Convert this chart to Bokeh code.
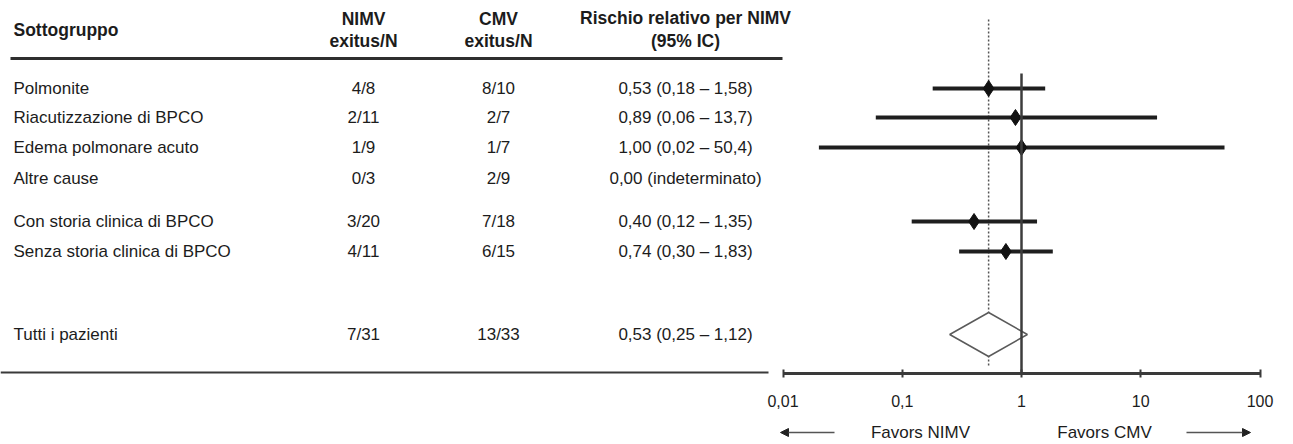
import math
from bokeh.plotting import figure
from bokeh.models import (Range1d, LogScale, LogAxis, FixedTicker, ColumnDataSource,
                          Arrow, NormalHead)
from bokeh.core.properties import value
from bokeh.embed import file_html
from bokeh.resources import INLINE

# ---------------- data ----------------
subgroups = ["Polmonite", "Riacutizzazione di BPCO", "Edema polmonare acuto", "Altre cause",
             "Con storia clinica di BPCO", "Senza storia clinica di BPCO", "Tutti i pazienti"]
nimv = ["4/8", "2/11", "1/9", "0/3", "3/20", "4/11", "7/31"]
cmv = ["8/10", "2/7", "1/7", "2/9", "7/18", "6/15", "13/33"]
rr = [0.53, 0.89, 1.00, None, 0.40, 0.74, 0.53]
rr_lo = [0.18, 0.06, 0.02, None, 0.12, 0.30, 0.25]
rr_hi = [1.58, 13.7, 50.4, None, 1.35, 1.83, 1.12]
rr_text = ["0,53 (0,18 – 1,58)", "0,89 (0,06 – 13,7)", "1,00 (0,02 – 50,4)", "0,00 (indeterminato)",
           "0,40 (0,12 – 1,35)", "0,74 (0,30 – 1,83)", "0,53 (0,25 – 1,12)"]
header_top = ["NIMV", "CMV", "Rischio relativo per NIMV"]
header_bottom = ["exitus/N", "exitus/N", "(95% IC)"]
tick_values = [0.01, 0.1, 1, 10, 100]
tick_labels = ["0,01", "0,1", "1", "10", "100"]
favors = ["Favors NIMV", "Favors CMV"]

# ---------------- layout (screen-like coordinates) ----------------
FONT = "Liberation Sans"
W, H = 1293, 444
row_y = [88, 117, 147, 178, 221, 251, 334]
col_x = [13, 363, 498, 685]
X_ONE = 1021.0      # pixel where RR = 1
DEC = 119.25        # pixels per decade
AXIS_Y = 373
FAV_Y = 432
log_lo = 10 ** ((0 - X_ONE) / DEC)
log_hi = 10 ** ((W - X_ONE) / DEC)

p = figure(width=W, height=H, output_backend="svg", toolbar_location=None,
           x_range=Range1d(0, W), y_range=Range1d(H, 0),
           x_axis_type=None, y_axis_type=None, min_border=0,
           outline_line_color=None, background_fill_color="white",
           border_fill_color="white")
p.extra_x_ranges = {"log": Range1d(log_lo, log_hi)}
p.extra_x_scales = {"log": LogScale()}

txt = dict(text_font=value(FONT), text_baseline="middle", text_color="#1c1c1c")

# headers
p.text(x=[col_x[0]], y=[29], text=["Sottogruppo"], text_align="left",
       text_font_style="bold", text_font_size="17.5px", **txt)
p.text(x=col_x[1:], y=[18, 18, 17], text=header_top, text_align="center",
       text_font_style="bold", text_font_size="17.5px", **txt)
p.text(x=col_x[1:], y=[40, 40, 40], text=header_bottom, text_align="center",
       text_font_style="bold", text_font_size="17.5px", **txt)

# table rows
src = ColumnDataSource(dict(y=row_y, sub=subgroups, nimv=nimv, cmv=cmv, rrt=rr_text))
p.text(x=col_x[0], y="y", text="sub", source=src, text_align="left", text_font_size="17px", **txt)
p.text(x=col_x[1], y="y", text="nimv", source=src, text_align="center", text_font_size="17px", **txt)
p.text(x=col_x[2], y="y", text="cmv", source=src, text_align="center", text_font_size="17px", **txt)
p.text(x=col_x[3], y="y", text="rrt", source=src, text_align="center", text_font_size="17px", **txt)

# rules
p.segment(x0=[10], x1=[782], y0=[58], y1=[58], line_width=3, line_color="#2e2e2e")
p.segment(x0=[0], x1=[768], y0=[372], y1=[372], line_width=2, line_color="#3a3a3a")

# forest plot
pooled = rr[-1]
p.segment(x0=[pooled], x1=[pooled], y0=[19], y1=[366], x_range_name="log",
          line_color="#555555", line_width=1.5, line_dash="2 2")

# pooled diamond
dy = 22
p.patch(x=[rr_lo[-1], pooled, rr_hi[-1], pooled],
        y=[row_y[-1], row_y[-1] - dy, row_y[-1], row_y[-1] + dy],
        x_range_name="log", fill_color="white", line_color="#5a5a5a", line_width=1.5)

idx = [i for i in range(len(rr) - 1) if rr[i] is not None]
fsrc = ColumnDataSource(dict(
    y=[row_y[i] for i in idx], rr=[rr[i] for i in idx],
    lo=[rr_lo[i] for i in idx], hi=[rr_hi[i] for i in idx]))
p.segment(x0="lo", x1="hi", y0="y", y1="y", source=fsrc, x_range_name="log",
          line_width=4, line_color="#1e1e1e")
p.scatter(x="rr", y="y", source=fsrc, x_range_name="log", marker="diamond",
          size=16, fill_color="#111111", line_color="#111111")

# line of no effect
p.segment(x0=[1], x1=[1], y0=[73], y1=[AXIS_Y], x_range_name="log",
          line_color="#3c3c3c", line_width=2.5)

# log axis
ax = LogAxis(x_range_name="log", fixed_location=AXIS_Y, bounds=(tick_values[0], tick_values[-1]),
             ticker=FixedTicker(ticks=tick_values, minor_ticks=[]),
             major_label_overrides={t: l for t, l in zip(tick_values, tick_labels)},
             axis_line_width=3, axis_line_color="#3a3a3a",
             major_tick_in=4, major_tick_out=4, major_tick_line_width=2,
             major_tick_line_color="#3a3a3a", minor_tick_line_color=None,
             major_label_standoff=17, major_label_text_font=FONT,
             major_label_text_font_size="16px", major_label_text_color="#1c1c1c")
p.add_layout(ax, "below")

# favors
p.text(x=[920, 1104], y=[FAV_Y, FAV_Y], text=favors, text_align="center",
       text_font_size="17px", **txt)
head = dict(size=8, fill_color="#222222", line_color="#222222")
p.add_layout(Arrow(end=NormalHead(**head), x_start=834, y_start=FAV_Y, x_end=780, y_end=FAV_Y,
                   line_width=1.5, line_color="#555555"))
p.add_layout(Arrow(end=NormalHead(**head), x_start=1186, y_start=FAV_Y, x_end=1250, y_end=FAV_Y,
                   line_width=1.5, line_color="#555555"))

open("out.html", "w").write(file_html(p, INLINE))
